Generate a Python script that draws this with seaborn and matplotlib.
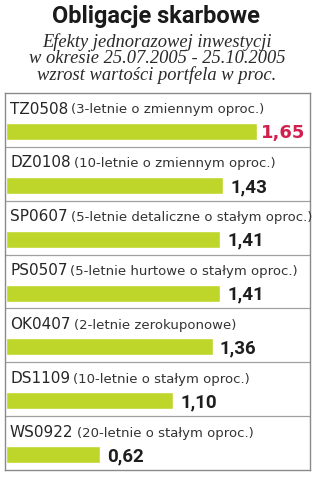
import numpy as np
import pandas as pd
from matplotlib import pyplot as plt
import seaborn as sns

codes = ['TZ0508', 'DZ0108', 'SP0607', 'PS0507', 'OK0407', 'DS1109', 'WS0922']
descs = ['(3-letnie o zmiennym oproc.)', '(10-letnie o zmiennym oproc.)',
         '(5-letnie detaliczne o stałym oproc.)', '(5-letnie hurtowe o stałym oproc.)',
         '(2-letnie zerokuponowe)', '(10-letnie o stałym oproc.)', '(20-letnie o stałym oproc.)']
values = [1.65, 1.43, 1.41, 1.41, 1.36, 1.10, 0.62]
value_labels = ['1,65', '1,43', '1,41', '1,41', '1,36', '1,10', '0,62']

title = 'Obligacje skarbowe'
subtitle = ['Efekty jednorazowej inwestycji',
            'w okresie 25.07.2005 - 25.10.2005',
            'wzrost wartości portfela w proc.']

green = '#bed52a'
red = '#d11f4f'
txt = '#262626'

df = pd.DataFrame({'code': codes, 'value': values})

sns.set_style('white')
W, H = 312, 480
fig = plt.figure(figsize=(W/100, H/100), dpi=100)

# box in pixels
bl, br, bt, bb = 5, 310, 93, 470
ax = fig.add_axes([bl/W, 1-bb/H, (br-bl)/W, (bb-bt)/H])

row_px = (bb-bt)/len(codes)
bar_off = 38.5/row_px
px_unit = 152.0

sns.barplot(data=df, x='value', y='code', orient='h', color=green,
            width=17/row_px, saturation=1, ax=ax)
ax.set_xlim(-1/px_unit, (br-bl-1)/px_unit)
ax.set_ylim(len(codes)-bar_off, -bar_off)
ax.set_xticks([])
ax.set_yticks([])
ax.set_xlabel('')
ax.set_ylabel('')
for s in ax.spines.values():
    s.set_color('#8a8a8a')
    s.set_linewidth(1)
for i in range(len(codes)-1):
    ax.axhline(i+1-bar_off, color='#a0a0a0', lw=0.9)

# labels
code_texts = []
for i in range(len(codes)):
    y = i - bar_off + 20.5/row_px
    t = ax.text(4/px_unit, y, codes[i], fontsize=11, color=txt,
                family='DejaVu Sans', va='baseline', ha='left')
    code_texts.append(t)

fig.canvas.draw()
r = fig.canvas.get_renderer()
inv = ax.transData.inverted()
for i, t in enumerate(code_texts):
    bb_ = t.get_window_extent(r)
    x1 = inv.transform((bb_.x1 + 3, 0))[0]
    ax.text(x1, t.get_position()[1], descs[i], fontsize=9.5, color='#333333',
            family='DejaVu Sans', va='baseline', ha='left')

# values
for i, v in enumerate(values):
    if i == 0:
        ax.text(v + 4/px_unit, i + 0.03, value_labels[i], fontsize=13, color=red,
                fontweight='bold', family='DejaVu Sans', va='center', ha='left')
    else:
        ax.text(v + 7/px_unit, i + 0.03, value_labels[i], fontsize=13.5, color='#1e1e1e',
                fontweight='bold', family='Roboto', va='center', ha='left')

fig.text(156/W, 1-23/H, title, fontsize=17, fontweight='bold', family='Roboto',
         color='#1a1a1a', ha='center', va='baseline')
fig.text(157/W, 1-80.5/H, '\n'.join(subtitle), fontsize=13.3, style='italic',
         family='Liberation Serif', color='#2a2a2a', ha='center', va='baseline',
         multialignment='center', linespacing=0.95)

fig.savefig('out.png', dpi=100)
